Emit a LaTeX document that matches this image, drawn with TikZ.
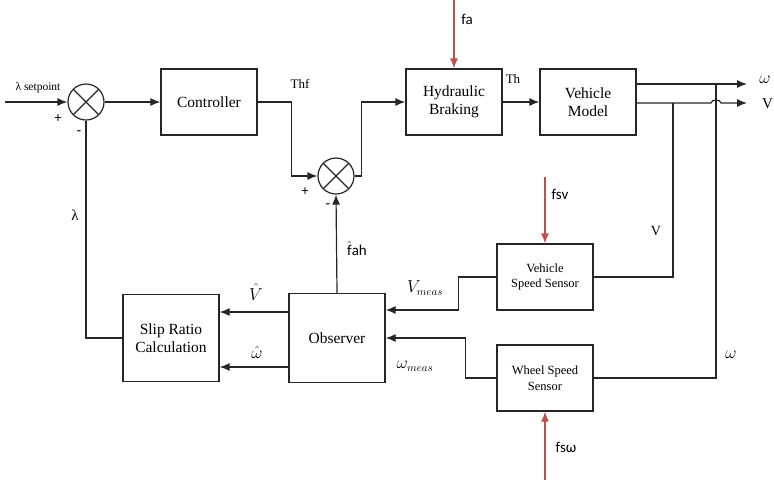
\documentclass[tikz,border=0pt]{standalone}
\usepackage{fontspec}
\setmainfont{Liberation Serif}
\newfontfamily\sigfont{Carlito}
\usetikzlibrary{arrows.meta, positioning, calc}

\definecolor{faultred}{RGB}{192,80,77}

\begin{document}
\begin{tikzpicture}[
    x=1pt, y=-1pt,
    >={Latex[length=10pt,width=8pt]},
    block/.style = {draw=black!85, line width=1.3pt, minimum width=96pt, minimum height=66pt,
                    align=center, inner sep=2pt, font=\fontsize{15.5}{18}\selectfont},
    sensor/.style = {block, font=\fontsize{12.5}{15.5}\selectfont},
    sumnode/.style = {draw=black!85, line width=1.2pt, circle, minimum size=36pt, inner sep=0pt,
                      path picture={\draw[black!85, line width=1.1pt]
                        (path picture bounding box.north west) -- (path picture bounding box.south east)
                        (path picture bounding box.north east) -- (path picture bounding box.south west);}},
    sig/.style = {black!85, line width=1.2pt},
    fault/.style = {faultred, line width=1.1pt, -{Latex[length=10pt,width=8pt]}},
    lbl/.style = {inner sep=1pt, font=\fontsize{13}{15}\selectfont},
    flbl/.style = {inner sep=1pt, font=\sigfont\fontsize{15}{17}\selectfont},
    mlbl/.style = {inner sep=1pt, font=\fontsize{16}{18}\selectfont},
]
\useasboundingbox (0,0) rectangle (774,480);

% Blocks
\node[sumnode] (sum1) at (86,102) {};
\node[block] (ctrl) at (209,102) {Controller};
\node[sumnode] (sum2) at (336,176) {};
\node[block] (hyd) at (454,102) {Hydraulic\\Braking};
\node[block] (veh) at (588,102) {Vehicle\\Model};
\node[sensor] (vss) at (545,277) {Vehicle\\Speed Sensor};
\node[sensor] (wss) at (545,378) {Wheel Speed\\Sensor};
\node[block, minimum height=89pt] (obs) at (337,338) {Observer};
\node[block, minimum height=87pt] (slip) at (171,338) {Slip Ratio\\Calculation};

% Free ends
\coordinate (in) at (5,102);
\coordinate (wend) at (747,84);
\coordinate (vend) at (747,103);
\coordinate (wtap) at (716,84);
\coordinate (vtap) at (673,103);
\coordinate (fatop) at (454,0);
\coordinate (fsvtop) at (545,177);
\coordinate (fswbot) at (545,480);

% Forward path
\draw[sig,->] (in) -- (sum1);
\draw[sig,->] (sum1) -- (ctrl);
\draw[sig,->] (ctrl.east) -- ++(34,0) |- (sum2.west);
\draw[sig,->] (sum2.east) -- ++(7,0) |- (hyd.west);
\draw[sig,->] (hyd) -- (veh);

% Outputs
\draw[sig,->] (veh.east |- wend) -- (wend);
\draw[sig,->] (veh.east |- vend) -- (711,103) to[out=90,in=90] (721,103) -- (vend);

% Sensors
\draw[sig] (vtap) |- (vss.east);
\draw[sig] (wtap) |- (wss.east);
\draw[sig,->] (vss.west) -- ++(-38,0) |- ([yshift=28pt]obs.east);
\draw[sig,->] (wss.west) -- ++(-31,0) |- (obs.east);

% Observer and feedback
\draw[sig,->] (obs.north) -- (sum2.south);
\draw[sig,->] ([yshift=26pt]obs.west) -- ([yshift=26pt]slip.east);
\draw[sig,->] ([yshift=-29pt]obs.west) -- ([yshift=-29pt]slip.east);
\draw[sig] (slip.west) -| (sum1.south);

% Faults
\draw[fault] (fatop) -- (hyd.north);
\draw[fault] (fsvtop) -- (vss.north);
\draw[fault] (fswbot) -- (wss.south);

% Labels
\node[lbl, font=\fontsize{11.5}{13}\selectfont] (lsp) at (38,88) {λ setpoint};
\node[flbl, font=\sigfont\fontsize{14}{16}\selectfont] (p1) at (58,119) {+};
\node[flbl] (m1) at (79,133) {-};
\node[flbl, font=\sigfont\fontsize{14}{16}\selectfont] (p2) at (305,192) {+};
\node[flbl] (m2) at (328,206) {-};
\node[lbl] (lthf) at (300,84) {Thf};
\node[lbl] (lth) at (513,79) {Th};
\node[flbl] (lfa) at (467,19) {fa};
\node[mlbl] (lwo) at (765,80) {$\omega$};
\node[lbl, font=\fontsize{15}{17}\selectfont, anchor=west] (lvo) at (761,104) {V};
\node[lbl, font=\fontsize{14}{16}\selectfont] (lv) at (656,231) {V};
\node[mlbl] (lw) at (731,355) {$\omega$};
\node[flbl] (lfsv) at (560,194) {fsv};
\node[flbl] (lfah) at (357,249) {$\hat{\mbox{f}}$ah};
\node[mlbl] (lvm) at (425,288) {$V_{meas}$};
\node[mlbl] (lwm) at (415,366) {$\omega_{meas}$};
\node[mlbl] (lvh) at (256,292) {$\hat{V}$};
\node[mlbl] (lwh) at (257,352) {$\hat{\omega}$};
\node[lbl, font=\fontsize{15}{17}\selectfont] (llam) at (75,215) {λ};
\node[flbl] (lfsw) at (566,447) {fsω};

\end{tikzpicture}
\end{document}
